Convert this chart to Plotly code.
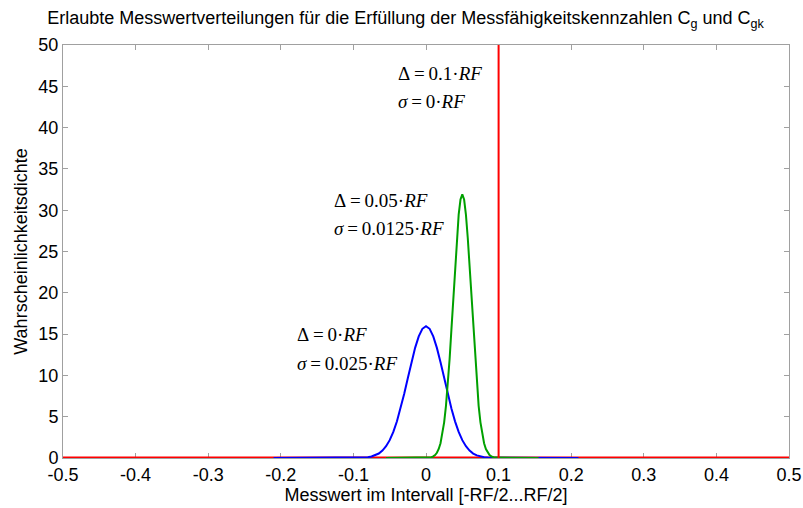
import plotly.graph_objects as go

# Blue: Delta = 0, sigma = 0.025 RF
blue_x = [-0.21, -0.09, -0.085, -0.08, -0.075, -0.07, -0.065, -0.06, -0.055, -0.05, -0.045,
          -0.04, -0.035, -0.03, -0.025, -0.02, -0.015, -0.01, -0.005, 0.0,
          0.005, 0.01, 0.015, 0.02, 0.025, 0.03, 0.035, 0.04, 0.045, 0.05,
          0.055, 0.06, 0.065, 0.07, 0.075, 0.08, 0.085, 0.09, 0.21]
blue_y = [0.0, 0.02, 0.05, 0.10, 0.18, 0.32, 0.54, 0.90, 1.42, 2.16, 3.16,
          4.44, 5.99, 7.77, 9.68, 11.59, 13.33, 14.73, 15.64, 15.96,
          15.64, 14.73, 13.33, 11.59, 9.68, 7.77, 5.99, 4.44, 3.16, 2.16,
          1.42, 0.90, 0.54, 0.32, 0.18, 0.10, 0.05, 0.02, 0.0]

# Green: Delta = 0.05 RF, sigma = 0.0125 RF
green_x = [-0.055, 0.005, 0.0075, 0.01, 0.0125, 0.015, 0.0175, 0.02, 0.0225, 0.025, 0.0275,
           0.03, 0.0325, 0.035, 0.0375, 0.04, 0.0425, 0.045, 0.0475, 0.05,
           0.0525, 0.055, 0.0575, 0.06, 0.0625, 0.065, 0.0675, 0.07, 0.0725, 0.075,
           0.0775, 0.08, 0.0825, 0.085, 0.0875, 0.09, 0.0925, 0.095, 0.155]
green_y = [0.0, 0.05, 0.10, 0.19, 0.35, 0.63, 1.09, 1.79, 2.84, 4.32, 6.32,
           8.87, 11.98, 15.54, 19.36, 23.18, 26.67, 29.46, 31.29, 31.92,
           31.29, 29.46, 26.67, 23.18, 19.36, 15.54, 11.98, 8.87, 6.32, 4.32,
           2.84, 1.79, 1.09, 0.63, 0.35, 0.19, 0.10, 0.05, 0.0]

# Red: Delta = 0.1 RF, sigma = 0
red_h_x = [-0.5, 0.5]
red_h_y = [0, 0]
red_v_x = [0.1, 0.1]
red_v_y = [0, 50]

x_ticks = [-0.5, -0.4, -0.3, -0.2, -0.1, 0, 0.1, 0.2, 0.3, 0.4, 0.5]
x_tick_labels = ["-0.5", "-0.4", "-0.3", "-0.2", "-0.1", "0", "0.1", "0.2", "0.3", "0.4", "0.5"]
y_ticks = [0, 5, 10, 15, 20, 25, 30, 35, 40, 45, 50]

T = "\u2009"  # thin space
labels = [
    (f"Δ{T}={T}0.1·<i>RF</i>", f"<i>σ</i>{T}={T}0·<i>RF</i>", -0.041, 46.6, 43.2),
    (f"Δ{T}={T}0.05·<i>RF</i>", f"<i>σ</i>{T}={T}0.0125·<i>RF</i>", -0.129, 31.2, 27.8),
    (f"Δ{T}={T}0·<i>RF</i>", f"<i>σ</i>{T}={T}0.025·<i>RF</i>", -0.180, 14.9, 11.4),
]

fig = go.Figure()
fig.add_trace(go.Scatter(x=red_h_x, y=red_h_y, mode="lines", cliponaxis=False,
                         line=dict(color="#ff0000", width=3), showlegend=False))
fig.add_trace(go.Scatter(x=blue_x, y=blue_y, mode="lines",
                         line=dict(color="#0000ff", width=2), showlegend=False))
fig.add_trace(go.Scatter(x=green_x, y=green_y, mode="lines",
                         line=dict(color="#00a000", width=2), showlegend=False))
fig.add_trace(go.Scatter(x=red_v_x, y=red_v_y, mode="lines",
                         line=dict(color="#ff0000", width=2), showlegend=False))

serif = dict(family="Liberation Serif", size=19, color="black")
for l1, l2, x0, y1, y2 in labels:
    fig.add_annotation(x=x0, y=y1, text=l1, showarrow=False, xanchor="left",
                       yanchor="middle", font=serif)
    fig.add_annotation(x=x0, y=y2, text=l2, showarrow=False, xanchor="left",
                       yanchor="middle", font=serif)

tickfont = dict(family="Liberation Sans", size=18, color="black")
axis_common = dict(showline=True, linecolor="#a0a0a0", linewidth=1, mirror="ticks",
                   ticks="inside", ticklen=5, tickcolor="#a0a0a0", showgrid=False,
                   zeroline=False, automargin=False, tickfont=tickfont,
                   layer="below traces")

fig.update_layout(
    width=803, height=508,
    margin=dict(l=63, r=14, t=45, b=50),
    plot_bgcolor="white", paper_bgcolor="white",
    font=dict(family="Liberation Sans", size=18, color="black"),
    title=dict(text="Erlaubte Messwertverteilungen für die Erfüllung der Messfähigkeitskennzahlen C<sub>g</sub> und C<sub>gk</sub>",
               x=0.505, xref="container", xanchor="center",
               y=1 - 18 / 508, yref="container", yanchor="middle",
               font=dict(family="Liberation Sans", size=18, color="black")),
    xaxis=dict(range=[-0.5, 0.5], tickvals=x_ticks, ticktext=x_tick_labels,
               title=dict(text="Messwert im Intervall [-RF/2...RF/2]", standoff=2,
                          font=dict(family="Liberation Sans", size=18)),
               **axis_common),
    yaxis=dict(range=[0, 50], tickvals=y_ticks,
               title=dict(text="Wahrscheinlichkeitsdichte", standoff=6,
                          font=dict(family="Liberation Sans", size=18)),
               **axis_common),
)

fig.write_html("out.html", config={"displayModeBar": False},
               post_script="document.body.style.margin='0px';document.body.style.overflow='hidden';")
